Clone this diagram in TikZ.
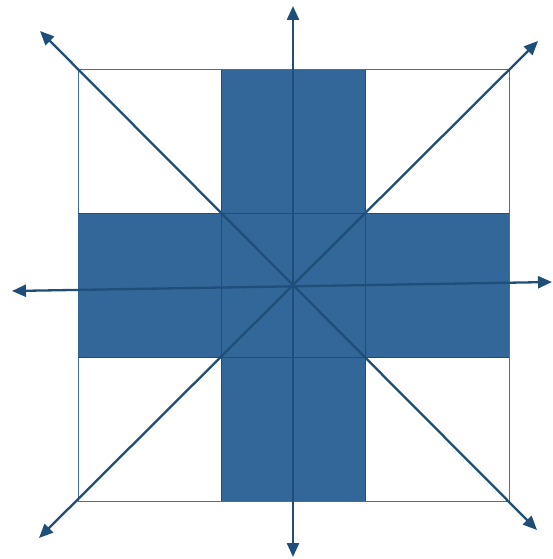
\documentclass[tikz,border=0pt]{standalone}
\usepackage{tikz}
\usetikzlibrary{arrows.meta}
\definecolor{crossblue}{RGB}{51,102,153}
\definecolor{axisblue}{RGB}{31,78,121}
\definecolor{frameblue}{RGB}{65,113,156}

\begin{document}
\begin{tikzpicture}[x=1pt,y=-1pt,
    axis/.style={axisblue,line width=2.3pt,{Triangle[length=14pt,width=12pt]}-{Triangle[length=14pt,width=12pt]}},
    gridline/.style={axisblue,line width=1pt}]
    \useasboundingbox (0,0) rectangle (552,559);
    % Outer square
    \draw[frameblue,line width=1pt] (78,70) rectangle (509,501);
    % Cross
    \fill[crossblue] (221.7,70) rectangle (365.3,501);
    \fill[crossblue] (78,213.7) rectangle (509,357.3);
    % Grid lines of the 3x3 square
    \foreach \v in {221.7,365.3}{
      \draw[gridline] (\v,70) -- (\v,501);
    }
    \foreach \v in {213.7,357.3}{
      \draw[gridline] (78,\v) -- (509,\v);
    }
    % Axis end points
    \coordinate (c) at (293,286);
    \coordinate (n) at (293,6);
    \coordinate (s) at (293,557);
    \coordinate (w) at (12,291);
    \coordinate (e) at (552,282);
    \coordinate (nw) at (40,31);
    \coordinate (se) at (537,530);
    \coordinate (ne) at (538,41);
    \coordinate (sw) at (39,538);
    % Axes
    \draw[axis] (s) -- (n);
    \draw[axis] (w) -- (e);
    \draw[axis] (nw) -- (se);
    \draw[axis] (sw) -- (ne);
\end{tikzpicture}
\end{document}
